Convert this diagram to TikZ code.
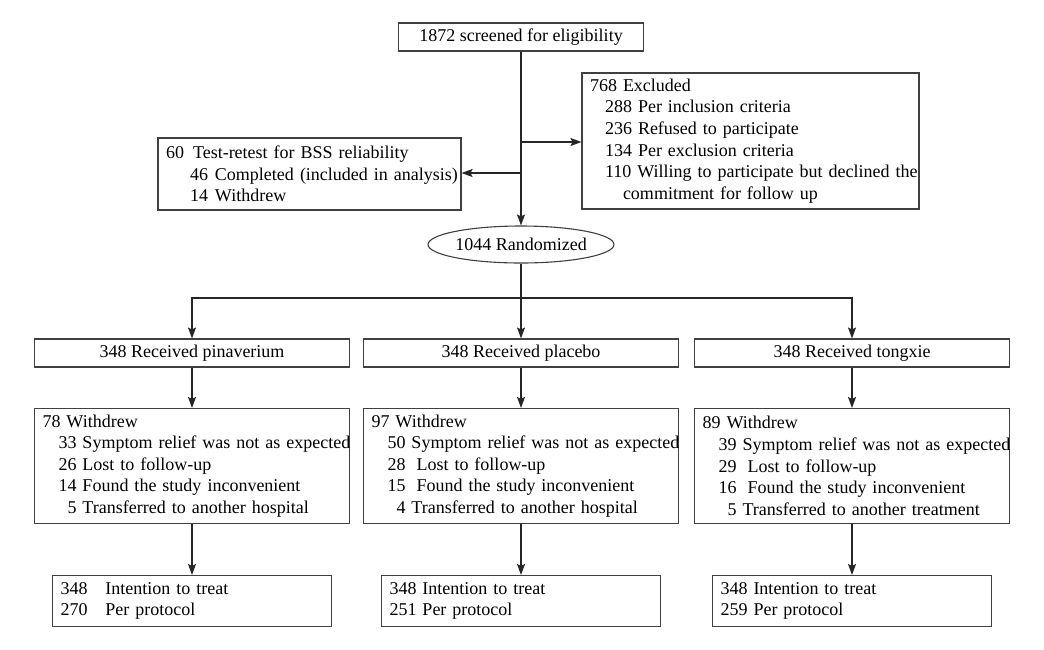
\documentclass[tikz,border=0pt]{standalone}
\usepackage{fontspec}
\setmainfont{Liberation Serif}
\usetikzlibrary{arrows.meta,shapes.geometric}

\newcommand{\wline}[2]{\mbox{\hspace*{16pt}\makebox[18pt][r]{#1} #2}}

\begin{document}
\begin{tikzpicture}[x=1pt, y=-1pt,
    font=\fontsize{18}{21.6}\selectfont,
    flowbox/.style={draw=black!75, line width=1.1pt, inner sep=0pt, minimum height=28pt},
    listbox/.style={flowbox, inner xsep=8pt, align=left},
    trunk/.style={draw=black!85, line width=1.4pt},
    conn/.style={trunk, -{Stealth[length=11pt, width=8pt, inset=2pt]}}]
    \useasboundingbox (0,0) rectangle (1044,649);
    \fill[white] (0,0) rectangle (1044,649);

    % screening and exclusions
    \node[flowbox, minimum width=245pt] at (521, 37)(screen){1872 screened for eligibility};
    \node[listbox, text width=321pt, minimum height=136pt] at (750.5, 141)(excl){768 Excluded\\
        \hspace*{15pt}288 Per inclusion criteria\\
        \hspace*{15pt}236 Refused to participate\\
        \hspace*{15pt}134 Per exclusion criteria\\
        \mbox{\hspace*{15pt}110 Willing to participate but declined the}\\
        \hspace*{33pt}commitment for follow up};
    \node[listbox, text width=287pt, minimum height=72pt] at (309.5, 174)(test){60\hspace{9pt}Test-retest for BSS reliability\\
        \mbox{\hspace*{24pt}46\hspace{7pt}Completed (included in analysis)}\\
        \hspace*{24pt}14\hspace{7pt}Withdrew};
    \node[flowbox, ellipse, minimum width=184pt, minimum height=37pt] at (521, 244.5)(rand){1044 Randomized};

    % groups
    \node[flowbox, minimum width=315pt] at (192, 353)(pinrec){348 Received pinaverium};
    \node[flowbox, minimum width=315pt] at (521, 353)(plarec){348 Received placebo};
    \node[flowbox, minimum width=315pt] at (852, 353)(tonrec){348 Received tongxie};

    \node[listbox, text width=299pt, minimum height=115pt] at (192, 466)(pinwd){78 Withdrew\\
        \wline{33}{Symptom relief was not as expected}\\
        \wline{26}{Lost to follow-up}\\
        \wline{14}{Found the study inconvenient}\\
        \wline{5}{Transferred to another hospital}};
    \node[listbox, text width=299pt, minimum height=115pt] at (521, 466)(plawd){97 Withdrew\\
        \wline{50}{Symptom relief was not as expected}\\
        \wline{28}{\hspace{5pt}Lost to follow-up}\\
        \wline{15}{\hspace{5pt}Found the study inconvenient}\\
        \wline{4}{Transferred to another hospital}};
    \node[listbox, text width=299pt, minimum height=115pt] at (852, 466)(tonwd){89 Withdrew\\
        \wline{39}{Symptom relief was not as expected}\\
        \wline{29}{\hspace{5pt}Lost to follow-up}\\
        \wline{16}{\hspace{5pt}Found the study inconvenient}\\
        \wline{5}{Transferred to another treatment}};

    \node[listbox, text width=263pt, minimum height=51pt] at (192, 601)(pinitt){348~~~Intention to treat\\270~~~Per protocol};
    \node[listbox, text width=263pt, minimum height=51pt] at (521, 601)(plaitt){348 Intention to treat\\251 Per protocol};
    \node[listbox, text width=263pt, minimum height=51pt] at (852, 601)(tonitt){348 Intention to treat\\259 Per protocol};

    % connectors
    \coordinate (toexcl) at (521, 142);
    \coordinate (totest) at (521, 173);
    \coordinate (split) at (521, 298);

    \draw[conn] (screen) -- (rand);
    \draw[conn] (toexcl) -- (toexcl -| excl.west);
    \draw[conn] (totest) -- (totest -| test.east);
    \draw[trunk] (rand) -- (split);
    \draw[conn] (split) -| (pinrec);
    \draw[conn] (split) -| (tonrec);

    \path[trunk]
        (split)edge[conn](plarec)
        (pinrec)edge[conn](pinwd)
        (plarec)edge[conn](plawd)
        (tonrec)edge[conn](tonwd)
        (pinwd)edge[conn](pinitt)
        (plawd)edge[conn](plaitt)
        (tonwd)edge[conn](tonitt)
        ;
\end{tikzpicture}
\end{document}
